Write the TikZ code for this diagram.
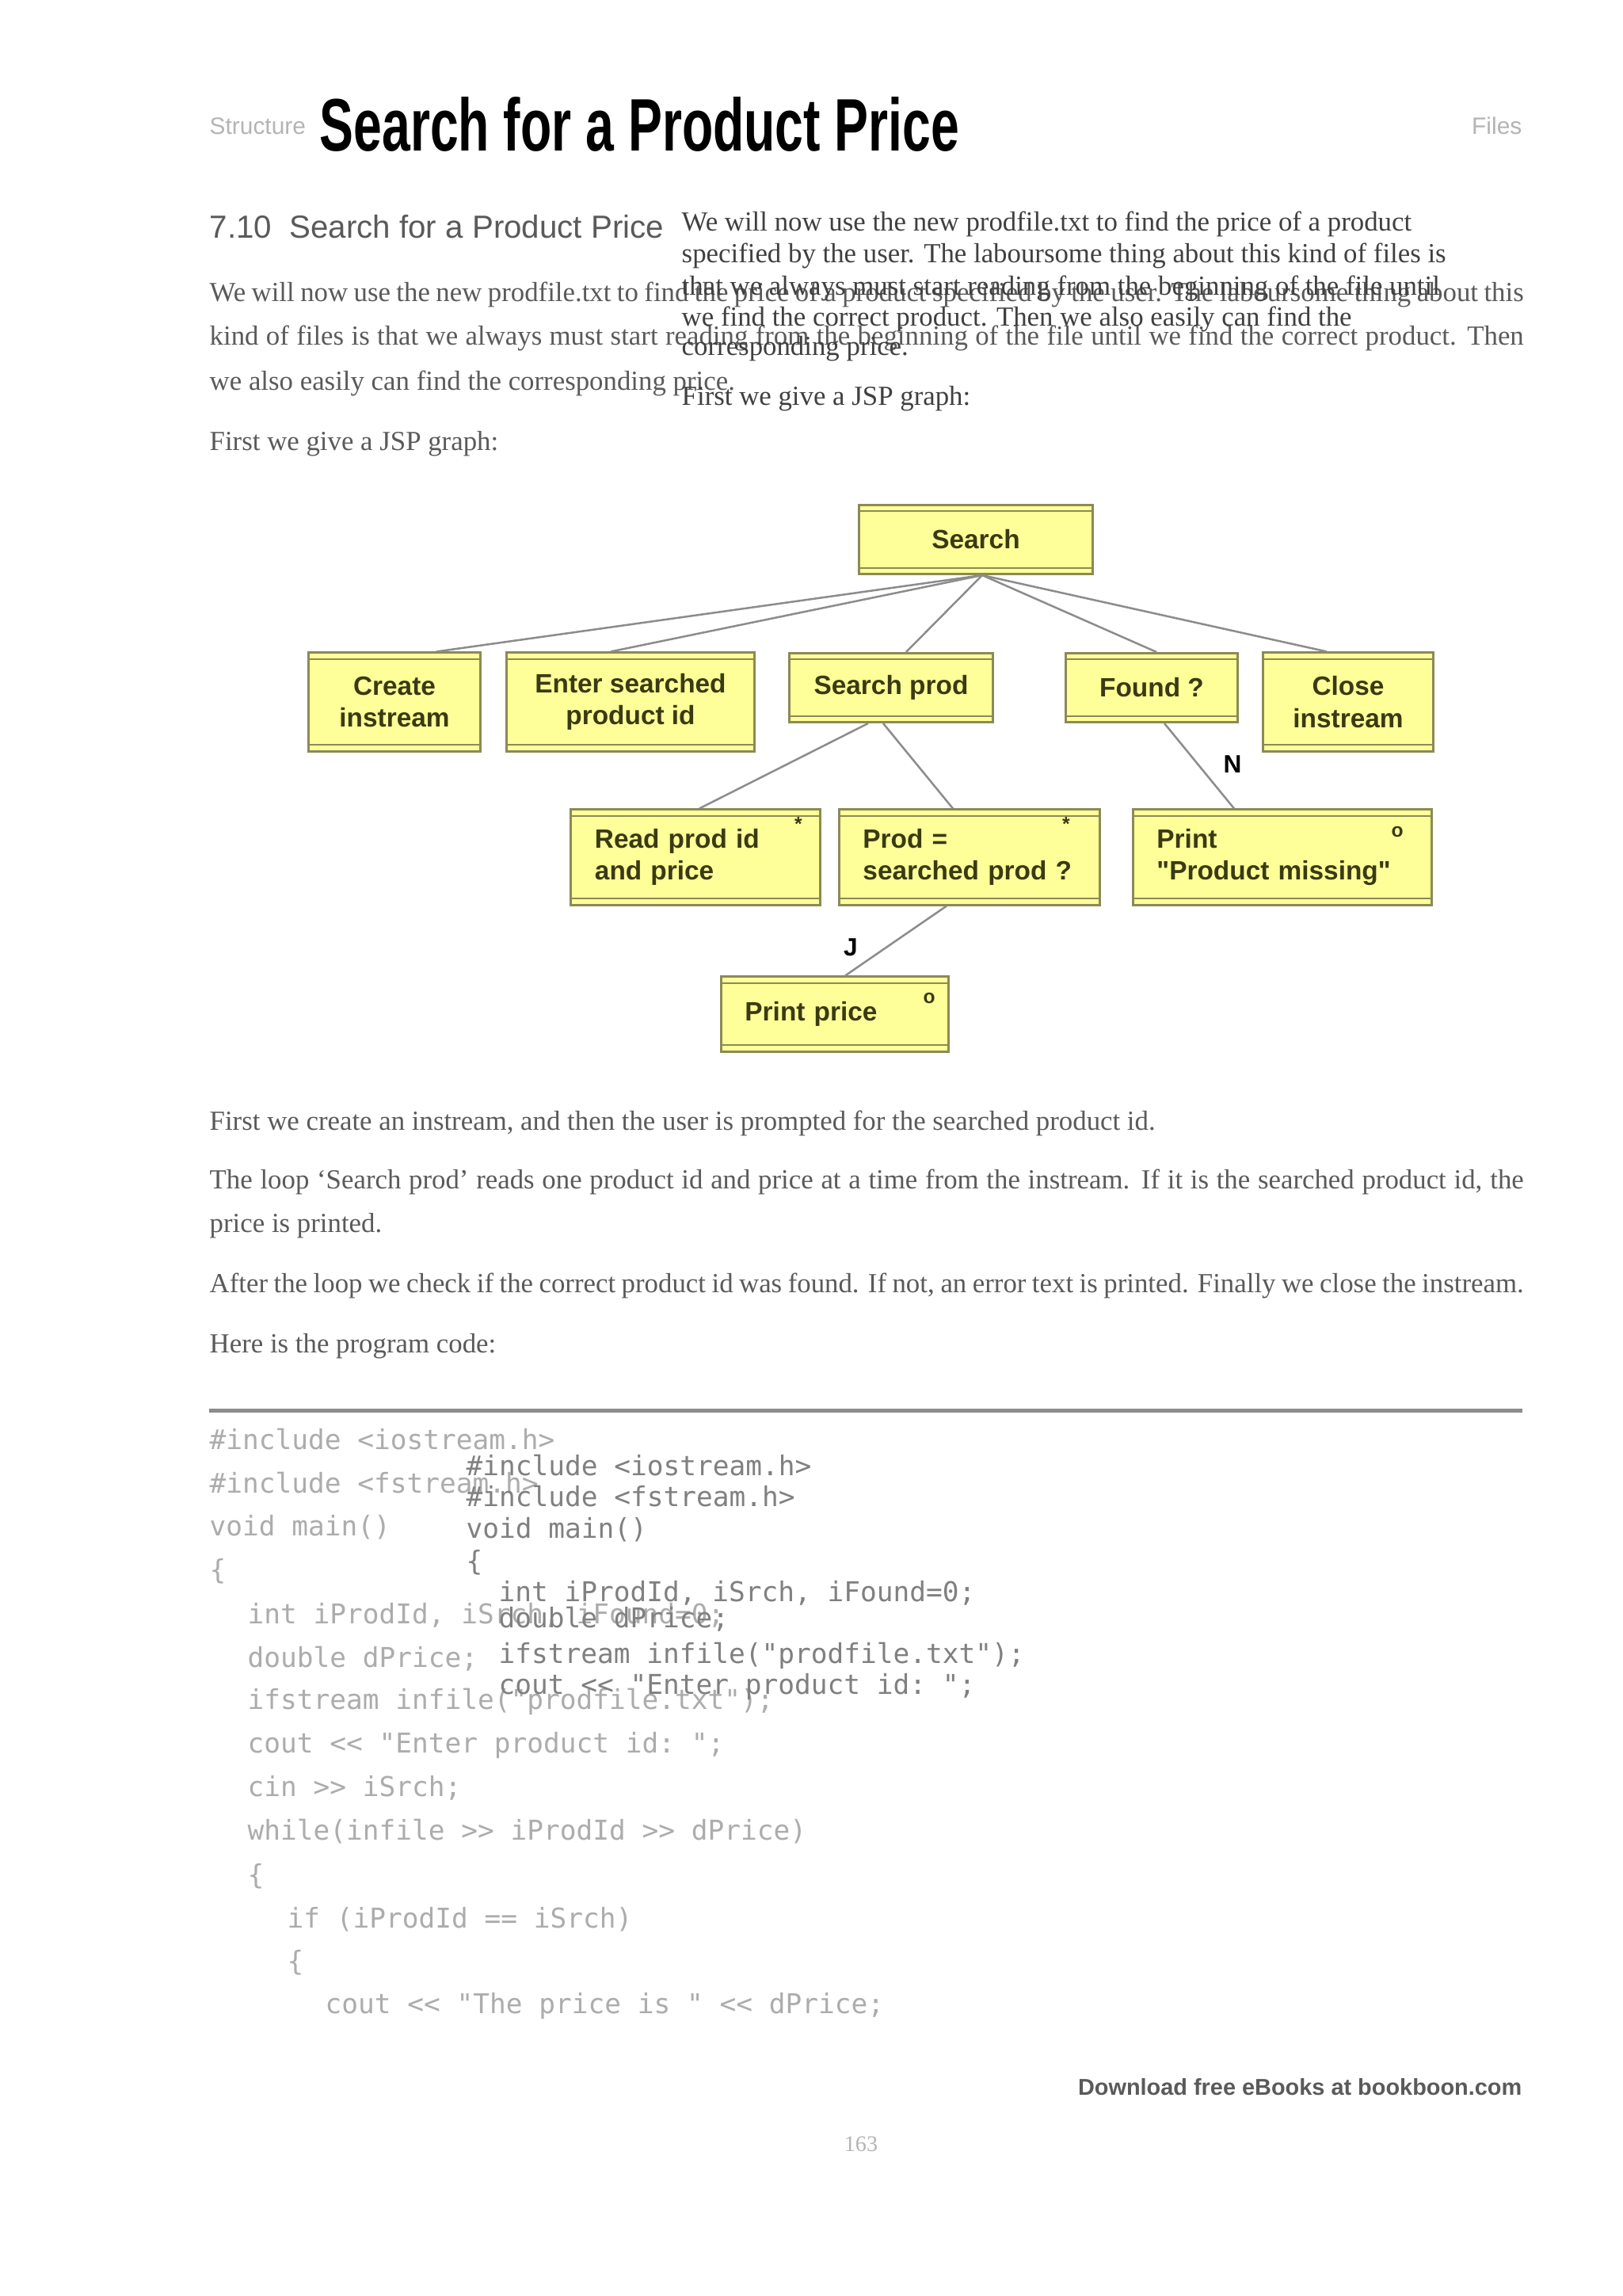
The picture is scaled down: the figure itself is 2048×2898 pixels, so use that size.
\documentclass[tikz,border=0pt]{standalone}
\usepackage{fontspec}
\setmainfont{Liberation Serif}
\setsansfont{Liberation Sans}
\setmonofont{DejaVu Sans Mono}
\definecolor{boxfill}{HTML}{FFFF99}
\definecolor{boxedge}{HTML}{8A8A58}
\definecolor{boxtext}{HTML}{3A3A12}
\definecolor{linkgray}{HTML}{8C8C8C}
\definecolor{bodygray}{HTML}{5A5A5A}
\definecolor{overgray}{HTML}{404040}
\definecolor{codegray}{HTML}{ACACAC}
\definecolor{overcode}{HTML}{808080}
\definecolor{headgray}{HTML}{B4B4B4}
\newcommand{\jline}[1]{\makebox[16.58cm][s]{#1}}
\begin{document}
\begin{tikzpicture}[x=0.01cm,y=-0.01cm,
  bodytxt/.style={anchor=west,inner sep=0,text=bodygray,font=\fontsize{9.9}{12}\selectfont},
  overtxt/.style={bodytxt,text=overgray},
  codetxt/.style={anchor=west,inner sep=0,text=codegray,font=\ttfamily\fontsize{9.8}{12}\selectfont},
  codeover/.style={codetxt,text=overcode},
  jspbox/.style={draw=boxedge,line width=0.03cm,fill=boxfill,inner xsep=0.3cm,inner ysep=0,
    text=boxtext,font=\sffamily\bfseries\fontsize{9.5}{11.5}\selectfont,
    path picture={
      \draw[boxedge,line width=0.02cm] ([yshift=-0.08cm]path picture bounding box.north west) -- ([yshift=-0.08cm]path picture bounding box.north east);
      \draw[boxedge,line width=0.02cm] ([yshift=0.08cm]path picture bounding box.south west) -- ([yshift=0.08cm]path picture bounding box.south east);}},
  jsplink/.style={draw=linkgray,line width=0.025cm},
  symb/.style={inner sep=0,text=boxtext,font=\sffamily\bfseries\fontsize{7}{8}\selectfont},
  yn/.style={inner sep=0,text=black,font=\sffamily\bfseries\fontsize{9}{10}\selectfont}]
\useasboundingbox[fill=white] (0,0) rectangle (2048,2898);
\node[anchor=west,inner sep=0,text=headgray,font=\sffamily\fontsize{8.5}{10}\selectfont] (runhead) at (264,159) {Structure};
\node[anchor=east,inner sep=0,text=headgray,font=\sffamily\fontsize{8.5}{10}\selectfont] (runfiles) at (1922,159) {Files};
\node[anchor=west,inner sep=0,fill=white] (title) at (403,157) {\resizebox{8.07cm}{0.68cm}{\sffamily\bfseries Search for a Product Price}};
\node[anchor=west,inner sep=0,text=bodygray] (sect) at (264,286) {\resizebox{5.73cm}{!}{\sffamily 7.10\ \ Search for a Product Price}};
\node[bodytxt] (l1) at (264,372) {\jline{We will now use the new prodfile.txt to find the price of a product specified by the user. The laboursome thing about this}};
\node[bodytxt] (l2) at (264,427) {\jline{kind of files is that we always must start reading from the beginning of the file until we find the correct product. Then}};
\node[bodytxt] (l3) at (264,484) {we also easily can find the corresponding price.};
\node[bodytxt] (l4) at (264,560) {First we give a JSP graph:};
\node[overtxt] (o1) at (860,283) {We will now use the new prodfile.txt to find the price of a product};
\node[overtxt] (o2) at (860,323) {specified by the user. The laboursome thing about this kind of files is};
\node[overtxt] (o3) at (860,364) {that we always must start reading from the beginning of the file until};
\node[overtxt] (o4) at (860,403) {we find the correct product. Then we also easily can find the};
\node[overtxt] (o5) at (860,440) {corresponding price.};
\node[overtxt] (o6) at (860,503) {First we give a JSP graph:};
\node[jspbox,minimum width=2.94cm,minimum height=0.87cm] (search) at (1232,681) {Search};
\node[jspbox,minimum width=2.16cm,minimum height=1.24cm,align=center] (create) at (498,886) {Create\\instream};
\node[jspbox,minimum width=3.12cm,minimum height=1.24cm,align=center] (enter) at (796,886) {Enter searched\\product id};
\node[jspbox,minimum width=2.57cm,minimum height=0.87cm] (sprod) at (1125,868) {Search prod};
\node[jspbox,minimum width=2.16cm,minimum height=0.87cm] (found) at (1454,868) {Found ?};
\node[jspbox,minimum width=2.15cm,minimum height=1.24cm,align=center] (close) at (1702,886) {Close\\instream};
\node[jspbox,text width=2.54cm,minimum height=1.2cm,align=left] (read) at (878,1082) {Read prod id\\and price};
\node[jspbox,text width=2.69cm,minimum height=1.2cm,align=left] (prodeq) at (1224,1082) {Prod =\\searched prod ?};
\node[jspbox,text width=3.17cm,minimum height=1.2cm,align=left] (missing) at (1619,1082) {Print\\\textquotedbl Product missing\textquotedbl};
\node[jspbox,text width=2.27cm,minimum height=0.94cm,align=left] (pprice) at (1054,1280) {Print price};
\node[symb] (readstar) at (1008,1040) {*};
\node[symb] (prodstar) at (1346,1040) {*};
\node[symb] (misso) at (1764,1050) {o};
\node[symb] (priceo) at (1173,1260) {o};
\draw[jsplink] ([xshift=0.08cm]search.south) -- ([xshift=0.53cm]create.north);
\draw[jsplink] ([xshift=0.08cm]search.south) -- ([xshift=-0.25cm]enter.north);
\draw[jsplink] ([xshift=0.08cm]search.south) -- ([xshift=0.19cm]sprod.north);
\draw[jsplink] ([xshift=0.08cm]search.south) -- ([xshift=0.06cm]found.north);
\draw[jsplink] ([xshift=0.08cm]search.south) -- ([xshift=-0.27cm]close.north);
\draw[jsplink] ([xshift=-0.29cm]sprod.south) -- ([xshift=0.05cm]read.north);
\draw[jsplink] ([xshift=-0.10cm]sprod.south) -- ([xshift=-0.21cm]prodeq.north);
\draw[jsplink] ([xshift=0.16cm]found.south) -- ([xshift=-0.61cm]missing.north);
\draw[jsplink] ([xshift=-0.29cm]prodeq.south) -- ([xshift=0.13cm]pprice.north);
\node[yn] (nlab) at (1556,965) {N};
\node[yn] (jlab) at (1074,1196) {J};
\node[bodytxt] (p1) at (264,1418) {First we create an instream, and then the user is prompted for the searched product id.};
\node[bodytxt] (p2) at (264,1492) {\jline{The loop `Search prod' reads one product id and price at a time from the instream. If it is the searched product id, the}};
\node[bodytxt] (p3) at (264,1547) {price is printed.};
\node[bodytxt] (p4) at (264,1623) {\jline{After the loop we check if the correct product id was found. If not, an error text is printed. Finally we close the instream.}};
\node[bodytxt] (p5) at (264,1699) {Here is the program code:};
\draw[line width=0.05cm,linkgray] (264,1780) -- (1922,1780);
\node[codetxt] (c1) at (264,1817) {\#include <iostream.h>};
\node[codetxt] (c2) at (264,1872) {\#include <fstream.h>};
\node[codetxt] (c3) at (264,1928) {void main()};
\node[codetxt] (c4) at (264,1983) {\{};
\node[codetxt] (c5) at (312,2039) {int iProdId, iSrch, iFound=0;};
\node[codetxt] (c6) at (312,2094) {double dPrice;};
\node[codetxt] (c7) at (312,2148) {ifstream infile("prodfile.txt");};
\node[codetxt] (c8) at (312,2203) {cout << "Enter product id: ";};
\node[codetxt] (c9) at (312,2257) {cin >> iSrch;};
\node[codetxt] (c10) at (312,2312) {while(infile >> iProdId >> dPrice)};
\node[codetxt] (c11) at (312,2368) {\{};
\node[codetxt] (c12) at (362,2423) {if (iProdId == iSrch)};
\node[codetxt] (c13) at (362,2477) {\{};
\node[codetxt] (c14) at (410,2532) {cout << "The price is " << dPrice;};
\node[codeover] (d1) at (588,1850) {\#include <iostream.h>};
\node[codeover] (d2) at (588,1889) {\#include <fstream.h>};
\node[codeover] (d3) at (588,1931) {void main()};
\node[codeover] (d4) at (588,1972) {\{};
\node[codeover] (d5) at (629,2011) {int iProdId, iSrch, iFound=0;};
\node[codeover] (d6) at (629,2044) {double dPrice;};
\node[codeover] (d7) at (629,2090) {ifstream infile("prodfile.txt");};
\node[codeover] (d8) at (629,2129) {cout << "Enter product id: ";};
\node[anchor=east,inner sep=0] (ebooks) at (1922,2634) {\resizebox{5.6cm}{!}{\color{bodygray}\sffamily\bfseries Download free eBooks at bookboon.com}};
\node[inner sep=0,text=headgray,font=\fontsize{8}{9}\selectfont] (pageno) at (1087,2706) {163};
\end{tikzpicture}
\end{document}
